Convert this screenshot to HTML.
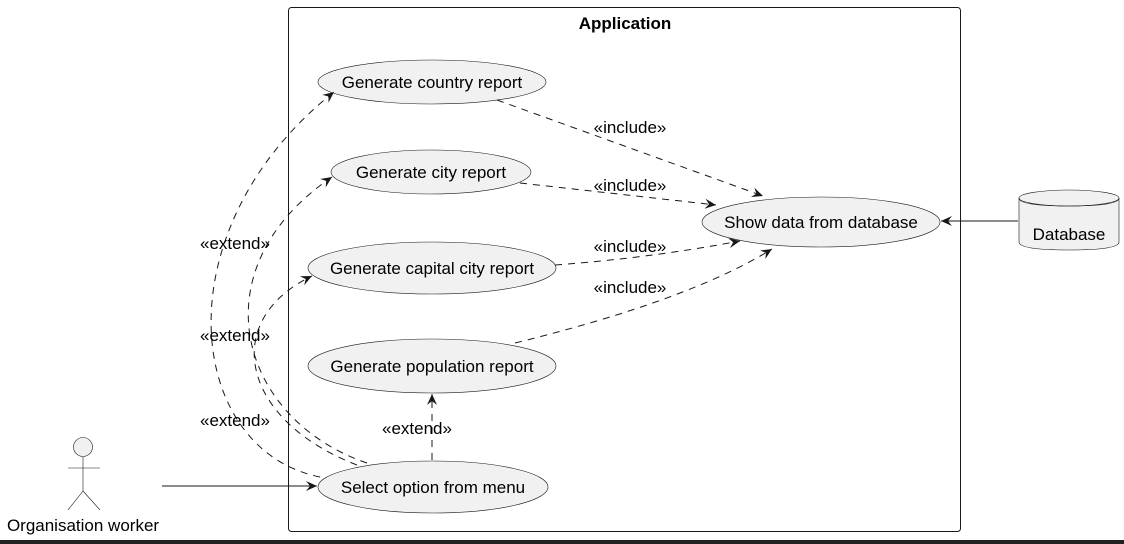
<!DOCTYPE html>
<html><head><style>
html,body{margin:0;padding:0;background:#fff;}
svg{display:block;font-family:"Liberation Sans",Arial,sans-serif;}
</style></head><body>
<svg width="1124" height="544" viewBox="0 0 1124 544" xmlns="http://www.w3.org/2000/svg">
<defs>
<marker id="ah" viewBox="0 0 12 12" refX="11" refY="6" markerWidth="12" markerHeight="12" markerUnits="userSpaceOnUse" orient="auto">
<path d="M0,1 L11,6 L0,11 L4,6 Z" fill="#181818"/>
</marker>
</defs>
<rect x="0" y="0" width="1124" height="544" fill="#fff"/>
<rect x="0" y="540" width="1124" height="4" fill="#222"/>
<rect x="288.5" y="7.5" width="672" height="524" rx="3" fill="none" stroke="#181818" stroke-width="1"/>
<text x="625" y="29" font-size="17" font-weight="bold" text-anchor="middle" fill="#000">Application</text>

<g fill="#f1f1f1" stroke="#181818" stroke-width="0.6">
<ellipse cx="432" cy="82" rx="114" ry="22"/>
<ellipse cx="431" cy="172" rx="100" ry="22"/>
<ellipse cx="432" cy="268" rx="124" ry="26"/>
<ellipse cx="432" cy="366" rx="124" ry="27"/>
<ellipse cx="433" cy="487" rx="115" ry="26"/>
<ellipse cx="821" cy="222" rx="119" ry="25"/>
</g>
<g font-size="17" fill="#000" text-anchor="middle">
<text x="432" y="88">Generate country report</text>
<text x="431" y="178">Generate city report</text>
<text x="432" y="274">Generate capital city report</text>
<text x="432" y="372">Generate population report</text>
<text x="433" y="493">Select option from menu</text>
<text x="821" y="228">Show data from database</text>
</g>

<!-- database -->
<path d="M1019,198 L1019,242 Q1019,250 1069,250 Q1119,250 1119,242 L1119,198" fill="#f1f1f1" stroke="#181818" stroke-width="0.6"/>
<ellipse cx="1069" cy="198" rx="50" ry="8" fill="#f1f1f1" stroke="#181818" stroke-width="0.6"/>
<path d="M1019,198 Q1019,206 1069,206 Q1119,206 1119,198" fill="none" stroke="#181818" stroke-width="0.6"/>
<text x="1069" y="240" font-size="17" text-anchor="middle">Database</text>
<line x1="1018" y1="221" x2="941" y2="221" stroke="#181818" stroke-width="1" marker-end="url(#ah)"/>

<!-- actor -->
<g stroke="#181818" stroke-width="0.6" fill="none">
<circle cx="83" cy="447" r="9.5" fill="#f1f1f1"/>
<line x1="83" y1="457" x2="83" y2="491"/>
<line x1="68" y1="468" x2="100" y2="468"/>
<line x1="83" y1="491" x2="68" y2="510"/>
<line x1="83" y1="491" x2="100" y2="510"/>
</g>
<text x="83" y="531" font-size="17" text-anchor="middle">Organisation worker</text>
<line x1="162" y1="486" x2="317" y2="486" stroke="#181818" stroke-width="1" marker-end="url(#ah)"/>

<!-- include -->
<g stroke="#181818" stroke-width="1" stroke-dasharray="7,6" fill="none" marker-end="url(#ah)">
<line x1="497" y1="100" x2="763" y2="196"/>
<line x1="520" y1="183" x2="716" y2="205"/>
<path d="M555,265 Q650,258 740,241"/>
<path d="M515,343 Q690,300 772,249"/>
</g>
<g font-size="17" text-anchor="middle">
<text x="630" y="133">«include»</text>
<text x="630" y="191">«include»</text>
<text x="630" y="252">«include»</text>
<text x="630" y="293">«include»</text>
</g>

<!-- extend -->
<g stroke="#181818" stroke-width="1" stroke-dasharray="7,6" fill="none" marker-end="url(#ah)">
<path d="M320,477 C185,450 160,230 334,92"/>
<path d="M367,463 C240,420 195,270 332,177"/>
<path d="M357,465 C240,420 220,320 312,276"/>
<line x1="432" y1="460" x2="432" y2="394"/>
</g>
<g font-size="17" text-anchor="middle">
<text x="235" y="249">«extend»</text>
<text x="235" y="341">«extend»</text>
<text x="235" y="426">«extend»</text>
<text x="417" y="434">«extend»</text>
</g>
</svg>
</body></html>
